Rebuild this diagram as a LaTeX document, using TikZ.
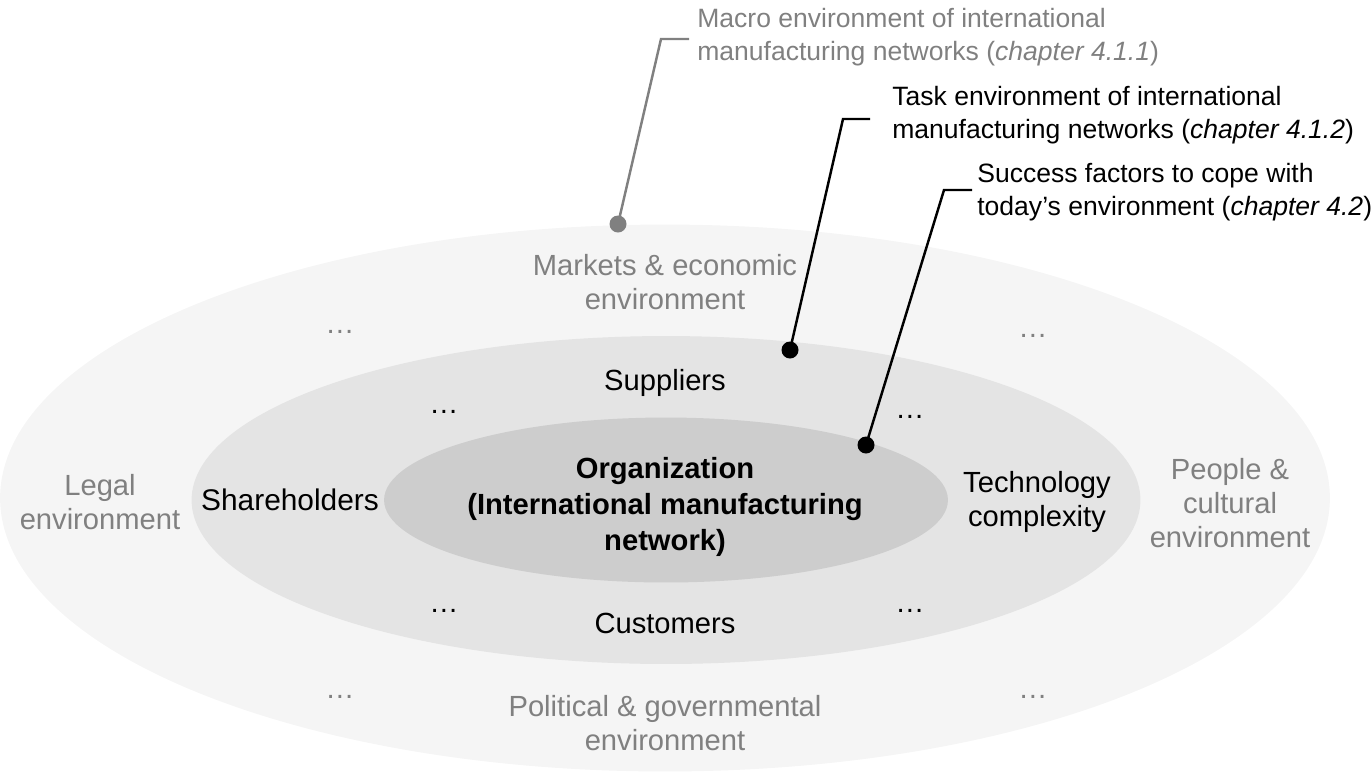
\documentclass[tikz,border=0pt]{standalone}
\usepackage{fontspec}
\setmainfont{Liberation Sans}
\usetikzlibrary{shapes.geometric}

\definecolor{outerfill}{HTML}{F5F5F5}
\definecolor{midfill}{HTML}{E4E4E4}
\definecolor{innerfill}{HTML}{CDCDCD}
\definecolor{txtgrey}{HTML}{808080}

\tikzset{
    ring/.style={ellipse, inner sep=0pt, outer sep=0pt},
    lbl/.style={font=\fontsize{16.6}{19.3}\selectfont, align=center, inner sep=0pt},
    greylbl/.style={lbl, text=txtgrey},
    note/.style={font=\fontsize{15.1}{18.6}\selectfont, align=left, anchor=west, inner sep=0pt},
    pin/.style={circle, fill, inner sep=0pt, minimum size=0.34cm},
    leader/.style={line width=1.4pt},
}

\begin{document}
\begin{tikzpicture}[x=0.02cm, y=-0.02cm]
    \useasboundingbox (0,0) rectangle (1371,775);

    \node[ring, fill=outerfill, minimum width=26.6cm, minimum height=10.94cm] (macro) at (665,498) {};
    \node[ring, fill=midfill, minimum width=18.98cm, minimum height=6.56cm] (task) at (666,500) {};
    \node[ring, fill=innerfill, minimum width=11.28cm, minimum height=3.3cm] (org) at (666,500) {};

    \node[greylbl] (markets) at (665,282) {Markets \& economic\\environment};
    \node[lbl] (suppliers) at (665,383) {Suppliers};
    \node[lbl, font=\fontsize{16.6}{20.5}\selectfont\bfseries] (orgtxt) at (665,507)
        {Organization\\(International manufacturing\\network)};
    \node[lbl, font=\fontsize{17}{19.3}\selectfont] (share) at (290,500) {Shareholders};
    \node[lbl] (tech) at (1037,502) {Technology\\complexity};
    \node[lbl] (cust) at (665,623) {Customers};
    \node[greylbl] (legal) at (100,502) {Legal\\environment};
    \node[greylbl] (people) at (1230,503) {People \&\\cultural\\environment};
    \node[greylbl] (political) at (665,723) {Political \& governmental\\environment};

    \foreach \x/\y in {340/332, 1033/336, 340/697, 1033/697} {
        \node[greylbl] at (\x,\y) {…};
    }
    \foreach \x/\y in {444/412, 910/417, 444/611, 910/611} {
        \node[lbl] at (\x,\y) {…};
    }

    \node[note, text=txtgrey] (macrolbl) at (697,37)
        {Macro environment of international\\manufacturing networks (\textit{chapter 4.1.1})};
    \node[note] (tasklbl) at (892,115)
        {Task environment of international\\manufacturing networks (\textit{chapter 4.1.2})};
    \node[note] (successlbl) at (977,192)
        {Success factors to cope with\\today’s environment (\textit{chapter 4.2})};

    \node[pin, txtgrey] (pmacro) at (618,224) {};
    \node[pin] (ptask) at (790,350) {};
    \node[pin] (psuccess) at (866,445) {};

    \coordinate (bmacro) at (661,39);
    \coordinate (btask) at (843,119);
    \coordinate (bsuccess) at (944,190);

    \draw[leader, txtgrey] (pmacro.center) -- (bmacro) -- ++(28,0);
    \draw[leader] (ptask.center) -- (btask) -- ++(27,0);
    \draw[leader] (psuccess.center) -- (bsuccess) -- ++(28,0);
\end{tikzpicture}
\end{document}
